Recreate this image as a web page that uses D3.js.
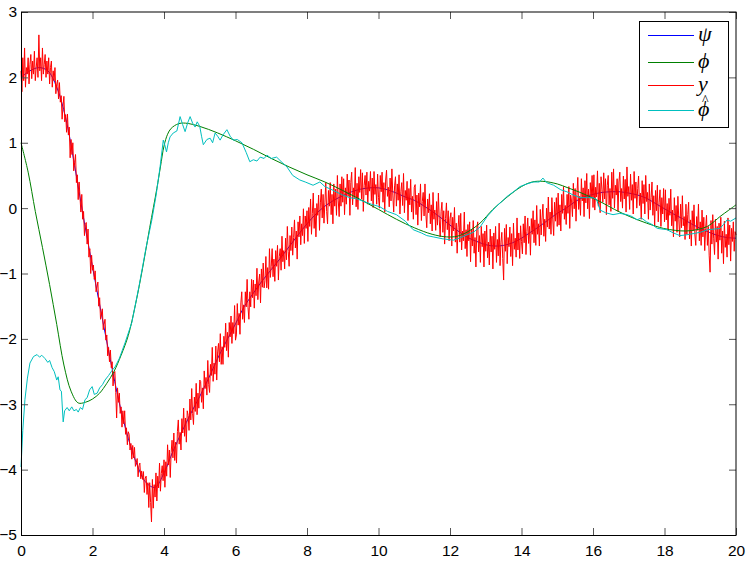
<!DOCTYPE html>
<html>
<head>
<meta charset="utf-8">
<script src="https://cdn.jsdelivr.net/npm/d3@7"></script>
<style>
  body { margin: 0; background: #fff; }
  svg { display: block; }
  .tick text { font-family: "Liberation Sans", Arial, sans-serif; font-size: 15.5px; fill: #000; }
  .legend text { font-family: "Liberation Serif", "DejaVu Serif", serif; font-style: italic; }
</style>
</head>
<body>
<div id="chart"></div>
<script>
// tick values
const xTicks = [0, 2, 4, 6, 8, 10, 12, 14, 16, 18, 20];
const yTicks = [-5, -4, -3, -2, -1, 0, 1, 2, 3];

// psi, sampled every 0.25
const psiStep = 0.25;
const psi = [2.0, 2.1, 2.15, 2.1, 1.85, 1.38, 0.65, -0.15, -0.9, -1.62,
  -2.32, -2.98, -3.52, -3.93, -4.2, -4.27, -4.05, -3.72, -3.42, -3.14,
  -2.88, -2.6, -2.3, -2.03, -1.77, -1.5, -1.3, -1.11, -0.94, -0.77,
  -0.59, -0.41, -0.24, -0.09, 0.03, 0.12, 0.19, 0.25, 0.29, 0.31,
  0.31, 0.28, 0.23, 0.17, 0.12, 0.04, -0.05, -0.15, -0.26, -0.36,
  -0.45, -0.51, -0.56, -0.58, -0.57, -0.53, -0.46, -0.37, -0.28, -0.18,
  -0.08, 0.0, 0.1, 0.17, 0.21, 0.24, 0.25, 0.25, 0.23, 0.2,
  0.15, 0.07, -0.01, -0.09, -0.16, -0.24, -0.31, -0.37, -0.42, -0.45, -0.46];

// phi
const phiT = [0, 0.2, 0.4, 0.6, 0.8, 1.0, 1.2, 1.4, 1.6, 1.8, 2.0, 2.2, 2.4, 2.6, 2.8, 3.0, 3.2, 3.4, 3.6, 3.8,
  3.9, 4.0, 4.1, 4.2, 4.4, 4.6, 5.0, 5.5, 6.0, 6.5, 7.0, 7.5, 8.0, 8.5, 9.0, 9.5, 10.0, 10.5, 11.0, 11.5,
  11.9, 12.2, 12.5, 12.84, 13.2, 13.6, 14.0, 14.3, 14.6, 15.0, 15.3, 15.64, 16.2, 16.6, 17.03, 17.5, 17.97, 18.3, 18.6, 18.9,
  19.2, 19.4, 19.55, 19.8, 20.0];
const phi = [1.0, 0.55, -0.05, -0.6, -1.17, -1.78, -2.4, -2.8, -2.98, -2.97, -2.92, -2.83, -2.68, -2.5, -2.25, -1.95, -1.48, -0.92, -0.3, 0.3,
  0.63, 0.95, 1.13, 1.22, 1.29, 1.3, 1.25, 1.15, 1.03, 0.9, 0.76, 0.63, 0.51, 0.4, 0.27, 0.13, -0.02, -0.17, -0.3, -0.4,
  -0.44, -0.43, -0.36, -0.23, -0.02, 0.17, 0.33, 0.4, 0.41, 0.37, 0.31, 0.24, 0.1, -0.02, -0.13, -0.23, -0.31, -0.34, -0.35, -0.33,
  -0.28, -0.2, -0.13, -0.03, 0.05];

// phi hat (estimate)
const phiHatT = [0, 0.05, 0.11, 0.18, 0.25, 0.35, 0.45, 0.52, 0.58, 0.67, 0.75, 0.8, 0.87, 0.93, 1.0, 1.04, 1.09, 1.13, 1.18, 1.22,
  1.29, 1.35, 1.42, 1.48, 1.55, 1.6, 1.66, 1.72, 1.79, 1.85, 1.92, 1.99, 2.05, 2.13, 2.2, 2.28, 2.35, 2.45, 2.55, 2.63,
  2.75, 2.91, 3.1, 3.3, 3.5, 3.66, 3.78, 3.89, 3.98, 4.03, 4.07, 4.12, 4.17, 4.26, 4.36, 4.41, 4.45, 4.52, 4.59, 4.66,
  4.73, 4.8, 4.87, 4.93, 5.0, 5.05, 5.1, 5.2, 5.29, 5.36, 5.43, 5.5, 5.57, 5.65, 5.76, 5.85, 5.94, 6.05, 6.18, 6.3,
  6.4, 6.5, 6.6, 6.69, 6.8, 6.88, 7.0, 7.15, 7.3, 7.44, 7.6, 7.8, 7.95, 8.17, 8.36, 8.5, 8.7, 9.0, 9.2, 9.4,
  9.6, 9.8, 10.04, 10.25, 10.5, 10.75, 10.97, 11.2, 11.35, 11.53, 11.8, 12.1, 12.3, 12.47, 12.65, 12.84, 13.05, 13.3, 13.45, 13.6,
  13.8, 13.96, 14.15, 14.33, 14.5, 14.6, 14.7, 14.9, 15.1, 15.27, 15.45, 15.64, 15.85, 16.0, 16.1, 16.2, 16.35, 16.56, 16.75, 16.95,
  17.1, 17.23, 17.35, 17.5, 17.65, 17.8, 18.07, 18.25, 18.43, 18.6, 18.8, 19.0, 19.2, 19.4, 19.55, 19.65, 19.75, 19.85, 20.0];
const phiHat = [-3.96, -3.4, -2.93, -2.6, -2.37, -2.27, -2.24, -2.28, -2.25, -2.3, -2.36, -2.33, -2.44, -2.5, -2.63, -2.58, -2.78, -2.8, -3.27, -3.1,
  -3.05, -3.1, -3.04, -3.1, -3.08, -3.12, -3.05, -3.08, -2.93, -2.9, -2.78, -2.73, -2.85, -2.83, -2.75, -2.7, -2.63, -2.56, -2.48, -2.43,
  -2.3, -2.06, -1.75, -1.2, -0.6, -0.18, 0.2, 0.63, 1.04, 0.95, 0.86, 1.0, 1.09, 1.15, 1.18, 1.3, 1.4, 1.28, 1.17, 1.3,
  1.4, 1.3, 1.24, 1.32, 1.25, 1.1, 0.97, 1.05, 1.07, 1.0, 1.15, 1.1, 1.04, 1.12, 1.2, 1.1, 1.04, 1.05, 1.0, 0.85,
  0.71, 0.74, 0.72, 0.78, 0.76, 0.81, 0.76, 0.78, 0.7, 0.63, 0.5, 0.43, 0.4, 0.35, 0.4, 0.33, 0.28, 0.2, 0.16, 0.14,
  0.1, 0.06, 0.02, -0.05, -0.1, -0.2, -0.33, -0.38, -0.42, -0.44, -0.47, -0.49, -0.45, -0.41, -0.37, -0.29, -0.12, 0.03, 0.1, 0.18,
  0.26, 0.33, 0.37, 0.4, 0.4, 0.46, 0.39, 0.35, 0.28, 0.25, 0.2, 0.16, 0.16, 0.16, 0.13, -0.03, -0.07, -0.1, -0.08, -0.1,
  -0.13, -0.18, -0.15, -0.21, -0.25, -0.31, -0.33, -0.38, -0.42, -0.41, -0.39, -0.37, -0.33, -0.32, -0.31, -0.25, -0.18, -0.2, -0.15];

// y, measured every 0.025
const yStep = 0.025;
const yMeas = [
  2.1, 1.78, 2.3, 1.95, 2.45, 1.85, 2.15, 2.05, 2.3, 1.9, 2.2, 2.35, 1.98, 2.25, 2.05, 2.4, 1.95, 2.15, 2.3, 2.0,
  2.65, 2.1, 2.3, 1.95, 2.45, 2.05, 2.2, 2.35, 2.0, 2.25, 2.05, 2.3, 1.9, 2.15, 2.25, 1.85, 2.1, 1.95, 2.15, 1.75, 1.9,
  1.96, 1.67, 1.92, 1.62, 1.72, 1.36, 1.56, 1.71, 1.32, 1.43, 1.16, 1.44, 1.12, 1.24, 0.77, 1.05, 0.82, 1.0, 0.57, 0.7,
  0.82, 0.39, 0.51, 0.13, 0.4, 0.17, -0.06, 0.21, -0.17, -0.05, -0.42, -0.25, -0.22, -0.55, -0.32, -0.75, -0.62, -1.0, -0.72, -0.95,
  -0.87, -1.09, -0.96, -1.28, -1.21, -1.13, -1.5, -1.37, -1.7, -1.62, -1.54, -1.86, -1.78, -1.7, -2.02, -1.94, -2.26, -2.13, -2.35, -2.17,
  -2.44, -2.35, -2.72, -2.53, -2.5, -2.82, -3.21, -2.75, -2.97, -2.83, -3.14, -3.04, -3.35, -3.1, -3.3, -3.1, -3.46, -3.36, -3.62, -3.42,
  -3.46, -3.7, -3.6, -3.84, -3.63, -3.82, -3.66, -3.95, -3.89, -3.83, -4.11, -3.94, -3.9, -4.14, -4.02, -4.15, -4.03, -4.35, -4.13, -4.1,
  -4.38, -4.2, -4.58, -4.2, -4.5, -4.8, -4.15, -4.59, -4.23, -4.42, -4.05, -4.48, -4.1, -4.28, -3.9, -4.33, -4.06, -3.94, -4.17, -3.85,
  -4.27, -3.88, -4.1, -3.62, -3.93, -3.7, -4.12, -3.74, -3.55, -3.82, -3.44, -3.86, -3.58, -3.9, -3.42, -3.24, -3.61, -3.43, -3.7, -3.22,
  -3.44, -3.06, -3.49, -3.21, -3.58, -3.1, -3.17, -3.4, -2.92, -3.24, -2.76, -3.14, -3.31, -2.89, -3.11, -2.68, -3.16, -2.83, -3.06, -2.63,
  -2.65, -2.97, -2.75, -3.07, -2.49, -2.76, -2.59, -2.86, -2.33, -2.7, -2.82, -2.39, -2.56, -2.13, -2.65, -2.37, -2.54, -2.11, -2.63, -2.2,
  -2.07, -2.35, -1.92, -2.39, -2.12, -2.39, -1.96, -2.13, -1.76, -2.18, -1.9, -2.28, -1.75, -1.97, -1.65, -2.07, -1.75, -1.92, -1.49, -2.02,
  -1.94, -1.46, -1.79, -1.61, -1.93, -1.45, -1.28, -1.7, -1.48, -1.75, -1.28, -1.51, -1.09, -1.52, -1.7, -1.28, -1.51, -1.09, -1.37, -1.1,
  -1.53, -1.16, -1.34, -0.92, -1.4, -1.13, -1.01, -1.45, -0.93, -1.21, -0.84, -1.22, -1.11, -0.74, -1.22, -0.91, -1.24, -0.62, -1.06, -0.89,
  -0.62, -1.05, -0.78, -1.12, -0.65, -0.89, -0.57, -1.1, -0.74, -0.62, -0.95, -0.43, -0.82, -0.65, -0.93, -0.46, -0.79, -0.28, -0.66, -0.89,
  -0.42, -0.65, -0.29, -0.72, -0.45, -0.18, -0.61, -0.35, -0.78, -0.21, -0.44, -0.12, -0.56, -0.24, -0.42, -0.01, -0.54, -0.12, -0.31, -0.04,
  -0.51, 0.01, -0.28, 0.14, -0.4, -0.08, 0.23, -0.31, 0.0, -0.44, 0.07, -0.11, 0.2, -0.34, 0.08, 0.29, -0.15, 0.21, -0.23, 0.08,
  0.39, -0.05, -0.24, 0.27, 0.03, 0.39, -0.1, 0.21, -0.24, 0.37, 0.03, 0.29, -0.11, 0.5, 0.11, -0.13, 0.37, 0.03, 0.48, 0.09,
  0.45, -0.1, 0.31, 0.06, 0.52, 0.18, 0.43, -0.11, 0.39, 0.55, 0.05, 0.31, 0.16, 0.62, 0.02, 0.38, -0.02, 0.48, 0.24, 0.59,
  0.14, 0.54, -0.05, 0.35, 0.5, 0.2, 0.55, 0.06, 0.41, 0.26, 0.56, 0.11, 0.46, 0.01, 0.56, 0.21, 0.36, 0.06, 0.52, 0.16,
  0.0, 0.5, 0.25, 0.55, 0.09, 0.39, -0.06, 0.43, 0.58, 0.18, 0.32, 0.02, 0.46, 0.11, 0.6, 0.2, -0.06, 0.34, 0.48, 0.03,
  0.37, 0.12, 0.51, -0.09, 0.25, 0.39, 0.04, 0.53, -0.07, 0.27, 0.12, 0.41, -0.19, 0.3, 0.05, 0.44, -0.06, 0.18, -0.17, 0.32,
  0.36, -0.1, 0.2, -0.26, 0.23, 0.02, 0.37, -0.19, 0.1, 0.24, -0.12, 0.37, -0.09, -0.3, 0.14, -0.07, 0.22, -0.24, 0.05, -0.35,
  0.24, -0.17, -0.03, -0.34, 0.1, -0.26, 0.23, -0.18, -0.44, -0.05, 0.09, -0.37, -0.04, -0.55, -0.16, 0.08, -0.33, -0.04, -0.5, -0.16,
  -0.07, -0.58, -0.14, -0.35, 0.01, -0.52, -0.23, -0.69, -0.3, -0.11, -0.52, -0.08, -0.64, -0.35, -0.5, -0.06, -0.62, -0.33, -0.74, -0.25,
  -0.5, -0.21, -0.82, -0.32, -0.58, -0.19, -0.69, -0.45, -0.9, -0.31, -0.21, -0.67, -0.42, -0.83, -0.28, -0.59, -0.39, -0.9, -0.35, -0.66,
  -0.26, -0.76, -0.52, -0.87, -0.32, -0.67, -0.43, -0.93, -0.38, -0.63, -0.28, -0.83, -0.48, -0.73, -0.23, -0.88, -0.52, -0.37, -0.77, -1.1,
  -0.31, -0.66, -0.25, -0.85, -0.45, -0.59, -0.29, -0.74, -0.39, -0.88, -0.23, -0.63, -0.46, -0.75, -0.15, -0.64, -0.38, -0.77, -0.27, -0.51,
  -0.7, -0.24, -0.53, -0.12, -0.71, -0.36, -0.15, -0.54, -0.28, -0.72, -0.16, -0.4, -0.04, -0.53, -0.18, -0.57, 0.04, -0.4, -0.24, -0.58,
  -0.02, -0.41, -0.15, 0.06, -0.43, -0.17, -0.51, 0.0, -0.29, 0.17, -0.32, -0.06, -0.4, 0.16, -0.18, -0.42, 0.09, -0.2, 0.16, -0.28,
  0.23, -0.26, 0.05, -0.35, 0.21, -0.08, 0.33, -0.17, 0.04, -0.25, 0.21, -0.08, 0.33, -0.31, 0.2, 0.11, -0.13, 0.38, -0.01, 0.3,
  -0.2, 0.21, 0.47, -0.02, 0.18, -0.11, 0.45, 0.11, 0.31, -0.13, 0.42, 0.08, 0.53, -0.01, 0.29, -0.16, 0.39, 0.15, 0.5, 0.01,
  0.51, -0.03, 0.32, 0.17, 0.57, 0.03, 0.38, -0.07, 0.48, 0.29, 0.09, 0.54, 0.14, 0.45, -0.1, 0.35, 0.5, 0.05, 0.3, -0.05,
  0.55, 0.15, 0.6, 0.0, 0.35, 0.2, 0.45, -0.05, 0.4, 0.55, 0.1, 0.3, 0.0, 0.49, 0.14, 0.44, -0.06, 0.63, 0.18, 0.33,
  -0.02, 0.52, 0.12, 0.36, -0.09, 0.56, 0.15, 0.4, 0.0, 0.3, 0.49, 0.04, 0.23, -0.17, 0.42, 0.07, 0.36, -0.09, 0.5, 0.1,
  0.24, -0.17, 0.37, -0.03, 0.16, 0.4, -0.11, 0.19, -0.27, 0.27, -0.04, 0.35, -0.21, 0.09, 0.28, -0.28, 0.16, -0.09, 0.3, -0.21,
  0.28, -0.18, 0.07, -0.34, 0.15, -0.11, 0.29, -0.27, -0.03, -0.44, 0.16, -0.2, 0.04, -0.37, 0.18, -0.18, -0.44, 0.06, -0.3, 0.19,
  -0.27, -0.13, -0.48, 0.06, -0.4, -0.1, 0.09, -0.47, -0.18, -0.58, -0.04, -0.35, 0.05, -0.41, -0.57, -0.13, -0.34, 0.06, -0.5, -0.21,
  -0.57, -0.03, -0.44, -0.14, -0.65, -0.31, -0.11, -0.57, -0.28, -0.73, -0.98, -0.19, -0.55, -0.1, -0.46, -0.71, -0.17, -0.52, -0.28, -0.78,
  -0.23, -0.49, -0.14, -0.69, -0.35, -0.85, -0.2, -0.6, -0.4, -0.75, -0.15, -0.56, -0.26, -0.81, -0.31, -0.51, -0.21, -0.66, -0.36, -0.41
];

const legendLabels = ['ψ', 'ϕ', 'y', 'ϕ'];
const legendHat = [false, false, false, true];
const colors = ['#0000ff', '#008000', '#ff0000', '#00bfbf'];

const width = 747, height = 561;
const margin = { top: 12, right: 11, bottom: 26, left: 21 };

const svg = d3.select('#chart').append('svg').attr('width', width).attr('height', height);

const x = d3.scaleLinear().domain([0, 20]).range([margin.left, width - margin.right]);
const y = d3.scaleLinear().domain([-5, 3]).range([height - margin.bottom, margin.top]);

const plot = svg.append('g');

const smooth = d3.line().x(d => x(d[0])).y(d => y(d[1])).curve(d3.curveCatmullRom.alpha(0.5));
const straight = d3.line().x(d => x(d[0])).y(d => y(d[1]));

const psiPts = psi.map((v, i) => [i * psiStep, v]);
const phiPts = phi.map((v, i) => [phiT[i], v]);
const phiHatPts = phiHat.map((v, i) => [phiHatT[i], v]);
const yPts = yMeas.map((v, i) => [i * yStep, v]);

plot.append('path').attr('d', smooth(psiPts)).attr('fill', 'none').attr('stroke', colors[0]).attr('stroke-width', 1);
plot.append('path').attr('d', straight(yPts)).attr('fill', 'none').attr('stroke', colors[2]).attr('stroke-width', 1);
plot.append('path').attr('d', smooth(phiPts)).attr('fill', 'none').attr('stroke', colors[1]).attr('stroke-width', 1);
plot.append('path').attr('d', straight(phiHatPts)).attr('fill', 'none').attr('stroke', colors[3]).attr('stroke-width', 1);

// axes, matlab style (ticks inside)
const axBottom = svg.append('g').attr('transform', `translate(0,${height - margin.bottom})`)
  .call(d3.axisBottom(x).tickValues(xTicks).tickFormat(d3.format('d')).tickSizeInner(-7).tickSizeOuter(0).tickPadding(10));
const axLeft = svg.append('g').attr('transform', `translate(${margin.left},0)`)
  .call(d3.axisLeft(y).tickValues(yTicks).tickFormat(d3.format('d')).tickSizeInner(-7).tickSizeOuter(0).tickPadding(4));
const axTop = svg.append('g').attr('transform', `translate(0,${margin.top})`)
  .call(d3.axisTop(x).tickValues(xTicks).tickFormat('').tickSizeInner(-7).tickSizeOuter(0));
const axRight = svg.append('g').attr('transform', `translate(${width - margin.right},0)`)
  .call(d3.axisRight(y).tickValues(yTicks).tickFormat('').tickSizeInner(-7).tickSizeOuter(0));

[axBottom, axLeft, axTop, axRight].forEach(a => {
  a.select('.domain').remove();
  a.selectAll('.tick line').attr('stroke', '#555');
});

svg.append('rect')
  .attr('x', margin.left + 0.5).attr('y', margin.top)
  .attr('width', width - margin.right - margin.left - 0.5)
  .attr('height', height - margin.bottom - margin.top + 0.5)
  .attr('fill', 'none').attr('stroke', '#000').attr('stroke-width', 1);

// legend
const lg = svg.append('g').attr('class', 'legend');
lg.append('rect').attr('x', 639.5).attr('y', 21.5).attr('width', 89).attr('height', 106)
  .attr('fill', '#fff').attr('stroke', '#000').attr('stroke-width', 1);
const rowsY = [35, 62, 85, 110];
legendLabels.forEach((t, i) => {
  lg.append('line').attr('x1', 648).attr('x2', 694).attr('y1', rowsY[i] + 0.5).attr('y2', rowsY[i] + 0.5)
    .attr('stroke', colors[i]).attr('stroke-width', 1);
  const txt = lg.append('text').attr('x', 698).attr('y', rowsY[i] + 6).attr('font-size', 22);
  txt.append('tspan').text(t);
  if (legendHat[i]) {
    txt.append('tspan').attr('x', 702).attr('y', rowsY[i] - 5).attr('font-size', 14)
      .style('font-style', 'normal').text('^');
  }
});
</script>
</body>
</html>
